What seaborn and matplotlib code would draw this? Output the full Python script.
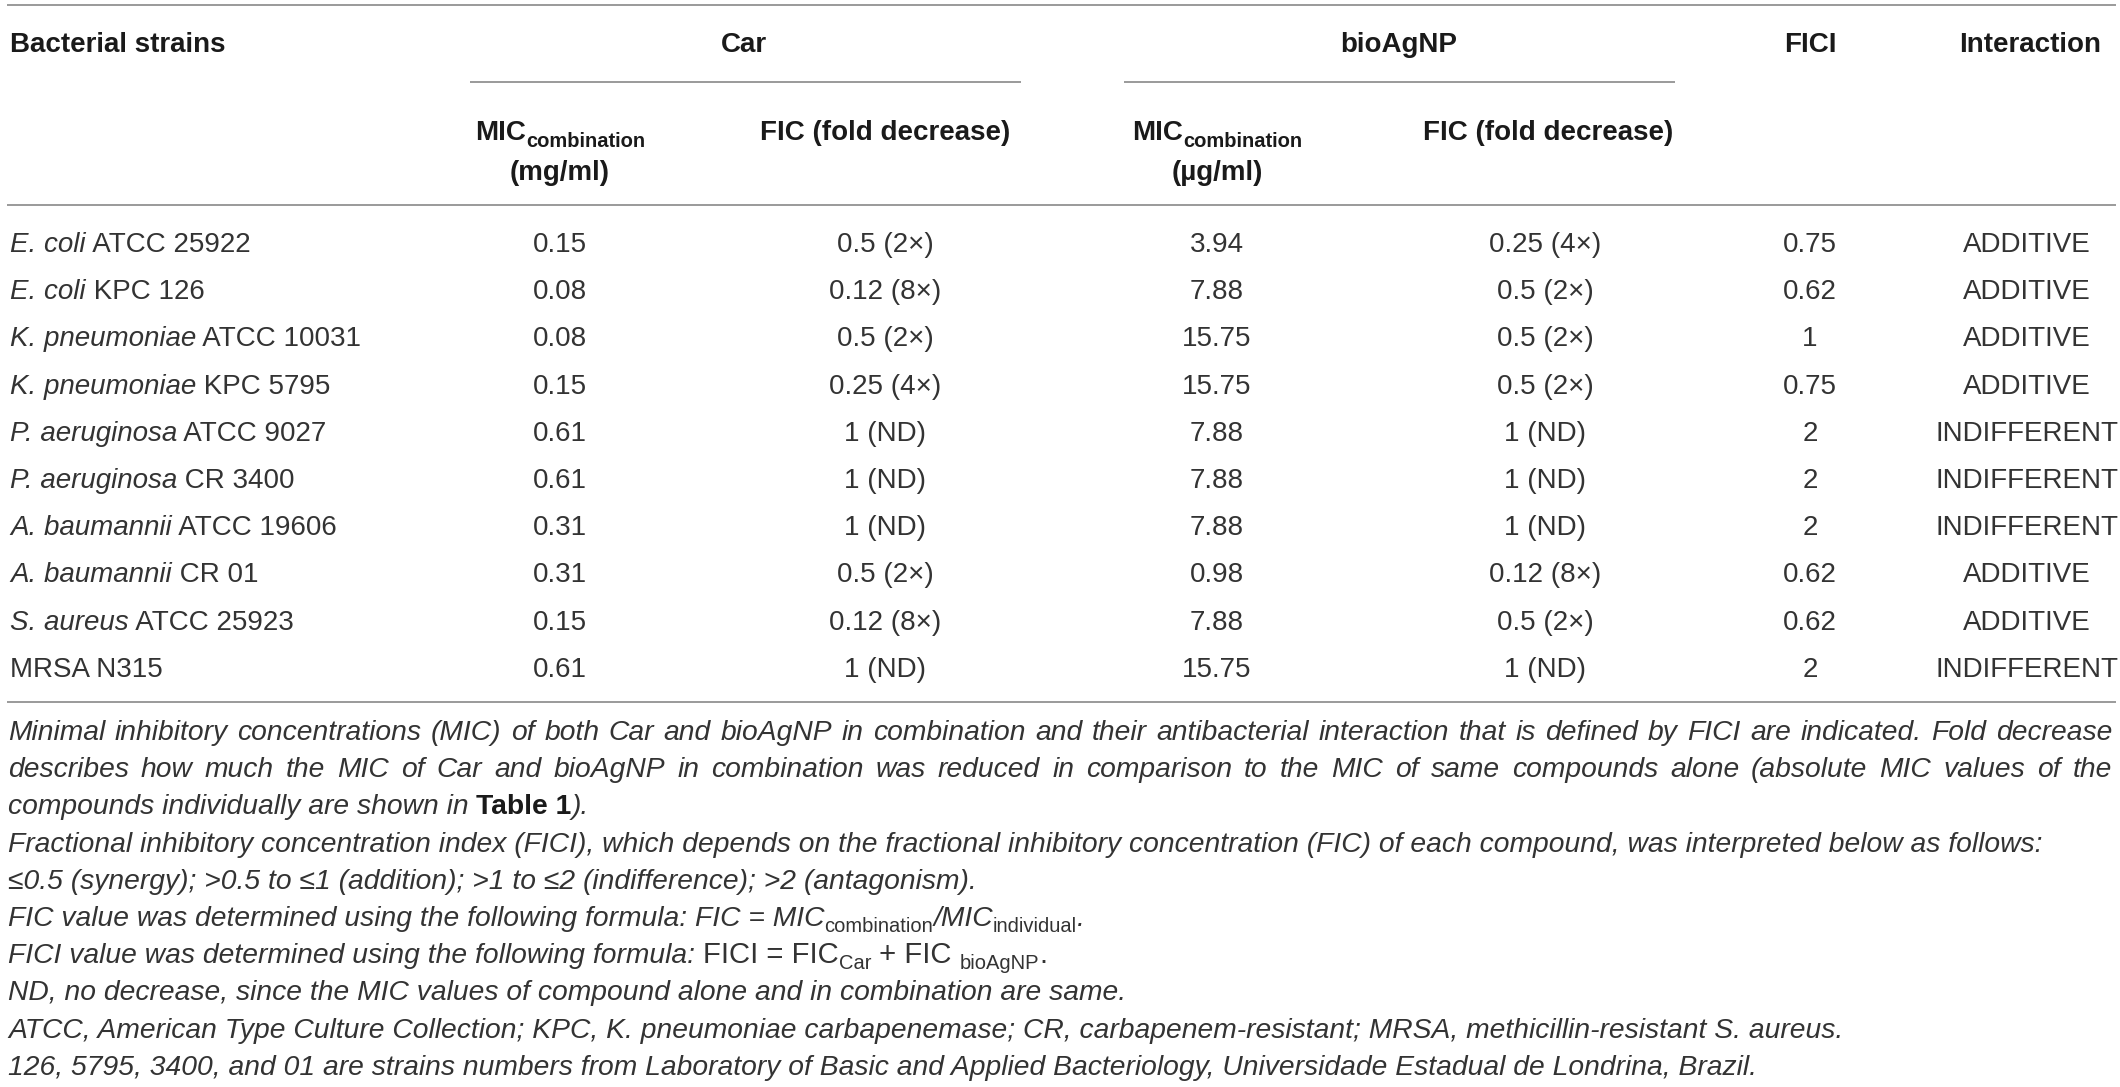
import matplotlib
matplotlib.use("Agg")
import matplotlib.pyplot as plt
import pandas as pd
import seaborn as sns

# table values
genus = ["E. coli", "E. coli", "K. pneumoniae", "K. pneumoniae", "P. aeruginosa",
         "P. aeruginosa", "A. baumannii", "A. baumannii", "S. aureus", ""]
strain_id = ["ATCC 25922", "KPC 126", "ATCC 10031", "KPC 5795", "ATCC 9027",
             "CR 3400", "ATCC 19606", "CR 01", "ATCC 25923", "MRSA N315"]
car_mic = [0.15, 0.08, 0.08, 0.15, 0.61, 0.61, 0.31, 0.31, 0.15, 0.61]
car_fic = ["0.5 (2\u00d7)", "0.12 (8\u00d7)", "0.5 (2\u00d7)", "0.25 (4\u00d7)", "1 (ND)",
           "1 (ND)", "1 (ND)", "0.5 (2\u00d7)", "0.12 (8\u00d7)", "1 (ND)"]
bio_mic = [3.94, 7.88, 15.75, 15.75, 7.88, 7.88, 7.88, 0.98, 7.88, 15.75]
bio_fic = ["0.25 (4\u00d7)", "0.5 (2\u00d7)", "0.5 (2\u00d7)", "0.5 (2\u00d7)", "1 (ND)",
           "1 (ND)", "1 (ND)", "0.12 (8\u00d7)", "0.5 (2\u00d7)", "1 (ND)"]
fici = [0.75, 0.62, 1, 0.75, 2, 2, 2, 0.62, 0.62, 2]
interaction = ["ADDITIVE"] * 4 + ["INDIFFERENT"] * 3 + ["ADDITIVE"] * 2 + ["INDIFFERENT"]

df = pd.DataFrame({"genus": genus, "strain": strain_id, "car_mic": car_mic,
                   "car_fic": car_fic, "bio_mic": bio_mic, "bio_fic": bio_fic,
                   "fici": fici, "interaction": interaction})

sns.set_theme(style="white")
plt.rcParams["font.family"] = ["Liberation Sans", "DejaVu Sans"]

W, H = 2120, 1087
fig = plt.figure(figsize=(W / 100, H / 100), dpi=100)
ax = fig.add_axes([0, 0, 1, 1])
ax.set_xlim(0, W)
ax.set_ylim(H, 0)
ax.set_axis_off()
r = fig.canvas.get_renderer()

BODY = 20
FN = 20.3
HEAD_C = "#1a1a1a"
BODY_C = "#333333"
FN_C = "#333333"
RULE_C = "#9a9a9a"

def fkw(s):
    return dict(fontsize=s.get("size", BODY), fontstyle=s.get("style", "normal"),
                fontweight=s.get("weight", "normal"), color=s.get("color", BODY_C))

def width(txt, s):
    t = ax.text(0, 0, "|" + txt + "|", **fkw(s))
    w1 = t.get_window_extent(r).width
    t.remove()
    t = ax.text(0, 0, "||", **fkw(s))
    w0 = t.get_window_extent(r).width
    t.remove()
    return w1 - w0

def runs(x, y, parts, ha="left"):
    ws = [width(t, s) for t, s in parts]
    x0 = x - sum(ws) / 2 if ha == "center" else x
    for (t, s), w in zip(parts, ws):
        ax.text(x0, y + s.get("dy", 0), t, va="baseline", ha="left", **fkw(s))
        x0 += w

def justified(x0, x1, y, line, s):
    words = line.split(" ")
    ws = [width(w, s) for w in words]
    gap = (x1 - x0 - sum(ws)) / (len(words) - 1)
    x = x0
    for w, wd in zip(words, ws):
        ax.text(x, y, w, va="baseline", ha="left", **fkw(s))
        x += wd + gap

hb = dict(weight="bold", color=HEAD_C)
hsub = dict(weight="bold", color=HEAD_C, size=14.5, dy=7)

# rules
ax.hlines([5, 205, 702], 7, 2116, color=RULE_C, lw=1.4)
ax.hlines(82, 470, 1021, color=RULE_C, lw=1.4)
ax.hlines(82, 1124, 1675, color=RULE_C, lw=1.4)

# header
ax.text(10, 52, "Bacterial strains", va="baseline", ha="left", **fkw(hb))
for x, lab in [(744, "Car"), (1399, "bioAgNP"), (1810, "FICI"), (2030, "Interaction")]:
    ax.text(x, 52, lab, va="baseline", ha="center", **fkw(hb))
for x, unit in [(560, "(mg/ml)"), (1217, "(\u00b5g/ml)")]:
    runs(x, 140, [("MIC", hb), ("combination", hsub)], ha="center")
    ax.text(x, 180, unit, va="baseline", ha="center", **fkw(hb))
for x in [885, 1548]:
    ax.text(x, 140, "FIC (fold decrease)", va="baseline", ha="center", **fkw(hb))

# body rows
col_x = {"car_mic": 560, "car_fic": 885, "bio_mic": 1217, "bio_fic": 1545,
         "fici": 1810, "interaction": 2027}
for i, row in df.iterrows():
    y = 252 + 47.2 * i
    parts = []
    if row["genus"]:
        parts.append((row["genus"], dict(style="italic")))
        parts.append((" " + row["strain"], {}))
    else:
        parts.append((row["strain"], {}))
    runs(10, y, parts)
    vals = {"car_mic": f"{row['car_mic']:.2f}", "car_fic": row["car_fic"],
            "bio_mic": f"{row['bio_mic']:.2f}", "bio_fic": row["bio_fic"],
            "fici": f"{row['fici']:g}", "interaction": row["interaction"]}
    for k, v in vals.items():
        ax.text(col_x[k], y, v, va="baseline", ha="center", **fkw({}))

# footnotes
it = dict(style="italic", size=FN, color=FN_C)
up = dict(size=FN + 0.8, color=FN_C)
sub_up = dict(size=14.5, color=FN_C, dy=6)
fy = [740 + 37.2 * k for k in range(10)]

justified(8, 2112, fy[0], "Minimal inhibitory concentrations (MIC) of both Car and bioAgNP in "
          "combination and their antibacterial interaction that is defined by FICI are "
          "indicated. Fold decrease", it)
justified(8, 2112, fy[1], "describes how much the MIC of Car and bioAgNP in combination was "
          "reduced in comparison to the MIC of same compounds alone (absolute MIC values "
          "of the", it)
runs(8, fy[2], [("compounds individually are shown in ", it),
                ("Table 1", dict(weight="bold", size=FN, color=HEAD_C)), (").", it)])
runs(8, fy[3], [("Fractional inhibitory concentration index (FICI), which depends on the "
                 "fractional inhibitory concentration (FIC) of each compound, was "
                 "interpreted below as follows:", it)])
runs(8, fy[4], [("\u22640.5 (synergy); >0.5 to \u22641 (addition); >1 to \u22642 "
                 "(indifference); >2 (antagonism).", it)])
runs(8, fy[5], [("FIC value was determined using the following formula: FIC = MIC", it),
                ("combination", sub_up), ("/MIC", it), ("individual", sub_up), (".", it)])
runs(8, fy[6], [("FICI value was determined using the following formula: ", it),
                ("FICI = FIC", up), ("Car", sub_up), (" + FIC ", up),
                ("bioAgNP", sub_up), (".", up)])
runs(8, fy[7], [("ND, no decrease, since the MIC values of compound alone and in "
                 "combination are same.", it)])
runs(8, fy[8], [("ATCC, American Type Culture Collection; KPC, K. pneumoniae "
                 "carbapenemase; CR, carbapenem-resistant; MRSA, methicillin-resistant "
                 "S. aureus.", it)])
runs(8, fy[9], [("126, 5795, 3400, and 01 are strains numbers from Laboratory of Basic "
                 "and Applied Bacteriology, Universidade Estadual de Londrina, Brazil.", it)])

fig.savefig("out.png", dpi=100)
